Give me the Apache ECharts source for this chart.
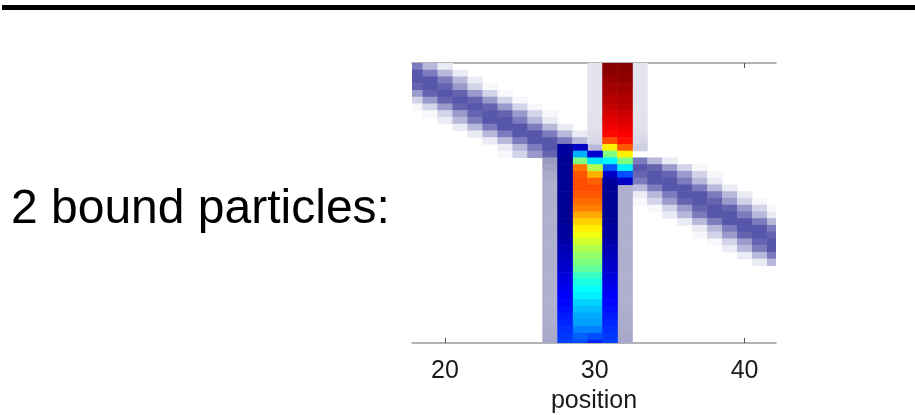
<!DOCTYPE html>
<html>
<head>
<meta charset="utf-8">
<script src="https://cdn.jsdelivr.net/npm/echarts@6/dist/echarts.min.js"></script>
<style>
html,body{margin:0;padding:0;background:#fff;}
#chart{width:915px;height:415px;}
</style>
</head>
<body>
<div id="chart"></div>
<script>
// ---- data ----
const titleText = '2 bound particles:';
const xName = 'position';
const xTicks = [20, 30, 40];

// moving particle (band): row index and centre position per row
const bandRows    = [0,1,2,3,4,5,6,7,8,9,10,11,12,13,14,15,16,17,18,19,20,21,22,23,24,25,26,27,28,29];
const bandCenters = [16.5,17.5,18.5,19,20,21,22,23,23.5,24.5,25.5,26.5,27.5,28,31.5,33,34,34.5,35.5,36.5,37,38,38.5,39.5,40.5,41,42,42.5,43.5,44.5];
// band intensity by |offset| from centre, in steps of 0.5
const bandProfile = [1, 1, 0.92, 0.78, 0.6, 0.42, 0.26, 0.12, 0.04];

// bound pair (jet colour values), columns: position, first row, values down
const jetUpper31 = [0.99,0.985,0.975,0.965,0.955,0.945,0.93,0.915,0.9,0.888,0.87,0.8,0.64,0.5,0.37,0.21,0.07];
const jetUpper32 = [0.99,0.985,0.98,0.97,0.96,0.95,0.94,0.925,0.91,0.895,0.88,0.86,0.79,0.64,0.5,0.36,0.2,0.07];
const jetLower29 = [0.07,0.3,0.5,0.76,0.79,0.8,0.8,0.79,0.77,0.75,0.71,0.67,0.64,0.61,0.58,0.55,0.52,0.5,0.47,0.43,0.4,0.38,0.36,0.33,0.31,0.29,0.28,0.25,0.22,0.2];
const jetLower30 = [0.08,0.35,0.55,0.7,0.78,0.8,0.79,0.77,0.75,0.71,0.67,0.64,0.61,0.58,0.55,0.52,0.5,0.47,0.43,0.4,0.38,0.36,0.33,0.31,0.29,0.28,0.25,0.2,0.16];
const jetBorder28 = [0.03,0.03,0.02,0.02,0.02,0.02,0.02,0.02,0.02,0.02,0.02,0.02,0.03,0.03,0.04,0.05,0.06,0.07,0.08,0.09,0.1,0.11,0.12,0.13,0.14,0.15,0.16,0.17,0.18,0.19];
const jetBorder31 = [0.03,0.02,0.02,0.02,0.02,0.02,0.02,0.03,0.03,0.04,0.05,0.06,0.07,0.08,0.09,0.1,0.11,0.12,0.13,0.14,0.15,0.16,0.17,0.18,0.19];
const jetColumns = [[31,0,jetUpper31],[32,0,jetUpper32],[29,12,jetLower29],[30,13,jetLower30],[28,12,jetBorder28],[31,17,jetBorder31]];

// faint outer edges of the bound pair
const edge27 = [0.75,0.7,0.65,0.62,0.6,0.6,0.6,0.6,0.6,0.6,0.6,0.6,0.6,0.6,0.6,0.6,0.6,0.6,0.6,0.6,0.6,0.6,0.6,0.62,0.62,0.64,0.64,0.66];
const edge32 = [0.62,0.6,0.6,0.6,0.6,0.6,0.6,0.6,0.6,0.6,0.6,0.6,0.6,0.6,0.6,0.6,0.6,0.6,0.62,0.62,0.64,0.64,0.66,0.66];
const edge30 = [0.2,0.2,0.2,0.2,0.2,0.2,0.2,0.2,0.22,0.22,0.25,0.3];
const edge33 = [0.2,0.2,0.2,0.2,0.2,0.2,0.2,0.2,0.22,0.22,0.25,0.3,0.35];
const edgeColumns = [[27,14,edge27],[32,18,edge32],[30,0,edge30],[33,0,edge33]];

// ---- build cell tables ----
const bandData = [];
bandRows.forEach((r, i) => {
  const c = bandCenters[i];
  for (let p = Math.ceil(c - 4); p <= Math.floor(c + 4); p++) {
    if (p < 17 || p > 43) continue;
    const idx = Math.round(Math.abs(p - c) * 2);
    if (idx < bandProfile.length) bandData.push([p, r, bandProfile[idx]]);
  }
});
function fromColumns(cols) {
  const out = [];
  cols.forEach(([p, start, vals]) => vals.forEach((v, k) => out.push([p, start + k, v])));
  return out;
}
const edgeData = fromColumns(edgeColumns);
const jetData = fromColumns(jetColumns);

function renderCell(params, api) {
  const x = api.value(0), r = api.value(1);
  const a = api.coord([x - 0.5, r]);
  const b = api.coord([x + 0.5, r + 1]);
  const cs = params.coordSys;
  const rect = echarts.graphic.clipRectByRect(
    {x: Math.min(a[0], b[0]), y: Math.min(a[1], b[1]), width: Math.abs(b[0] - a[0]) + 0.6, height: Math.abs(b[1] - a[1]) + 0.6},
    {x: cs.x, y: cs.y, width: cs.width, height: cs.height});
  if (!rect) return;
  return {type: 'rect', shape: rect, style: {fill: api.visual('color')}};
}

const font = 'Liberation Sans, Arial, Helvetica, sans-serif';
const axisCommon = {
  type: 'value', min: 17.8, max: 42.1,
  splitLine: {show: false},
  axisLine: {show: true, onZero: false, lineStyle: {color: '#9a9a9a', width: 1.5}},
  axisTick: {show: true, inside: true, length: 5, customValues: xTicks, lineStyle: {color: '#555', width: 1}}
};

const chart = echarts.init(document.getElementById('chart'), null, {renderer: 'canvas'});
chart.setOption({
  animation: false,
  backgroundColor: '#ffffff',
  grid: {left: 412, right: 139, top: 63, bottom: 72, containLabel: false, outerBoundsMode: 'none'},
  xAxis: [
    Object.assign({}, axisCommon, {
      position: 'bottom',
      axisLabel: {customValues: xTicks, fontSize: 25, color: '#1a1a1a', margin: 16, fontFamily: font},
      name: xName, nameLocation: 'middle', nameGap: 46,
      nameTextStyle: {fontSize: 25, color: '#1a1a1a', fontFamily: font}
    }),
    Object.assign({}, axisCommon, {position: 'top', axisLabel: {show: false}})
  ],
  yAxis: {type: 'value', min: 0, max: 41.5, inverse: true, show: false},
  visualMap: [
    {type: 'continuous', show: false, seriesIndex: 0, dimension: 2, min: 0, max: 1, inRange: {color: ['#ffffff', '#5656aa']}},
    {type: 'continuous', show: false, seriesIndex: 1, dimension: 2, min: 0, max: 1, inRange: {color: ['#ffffff', '#7a7aae']}},
    {type: 'continuous', show: false, seriesIndex: 2, dimension: 2, min: 0, max: 1,
     inRange: {color: ['#00007f','#0000ff','#007fff','#00ffff','#7fff7f','#ffff00','#ff7f00','#ff0000','#7f0000']}}
  ],
  series: [
    {type: 'custom', name: 'band', renderItem: renderCell, data: bandData, encode: {x: 0, y: 1}, xAxisIndex: 0},
    {type: 'custom', name: 'edge', renderItem: renderCell, data: edgeData, encode: {x: 0, y: 1}, xAxisIndex: 0},
    {type: 'custom', name: 'pair', renderItem: renderCell, data: jetData, encode: {x: 0, y: 1}, xAxisIndex: 0}
  ],
  graphic: [
    {type: 'rect', left: 2, top: 5, shape: {width: 913, height: 5}, style: {fill: '#000'}},
    {type: 'text', left: 11, top: 186, style: {text: titleText, font: '48px ' + font, fill: '#000'}}
  ]
});
</script>
</body>
</html>
